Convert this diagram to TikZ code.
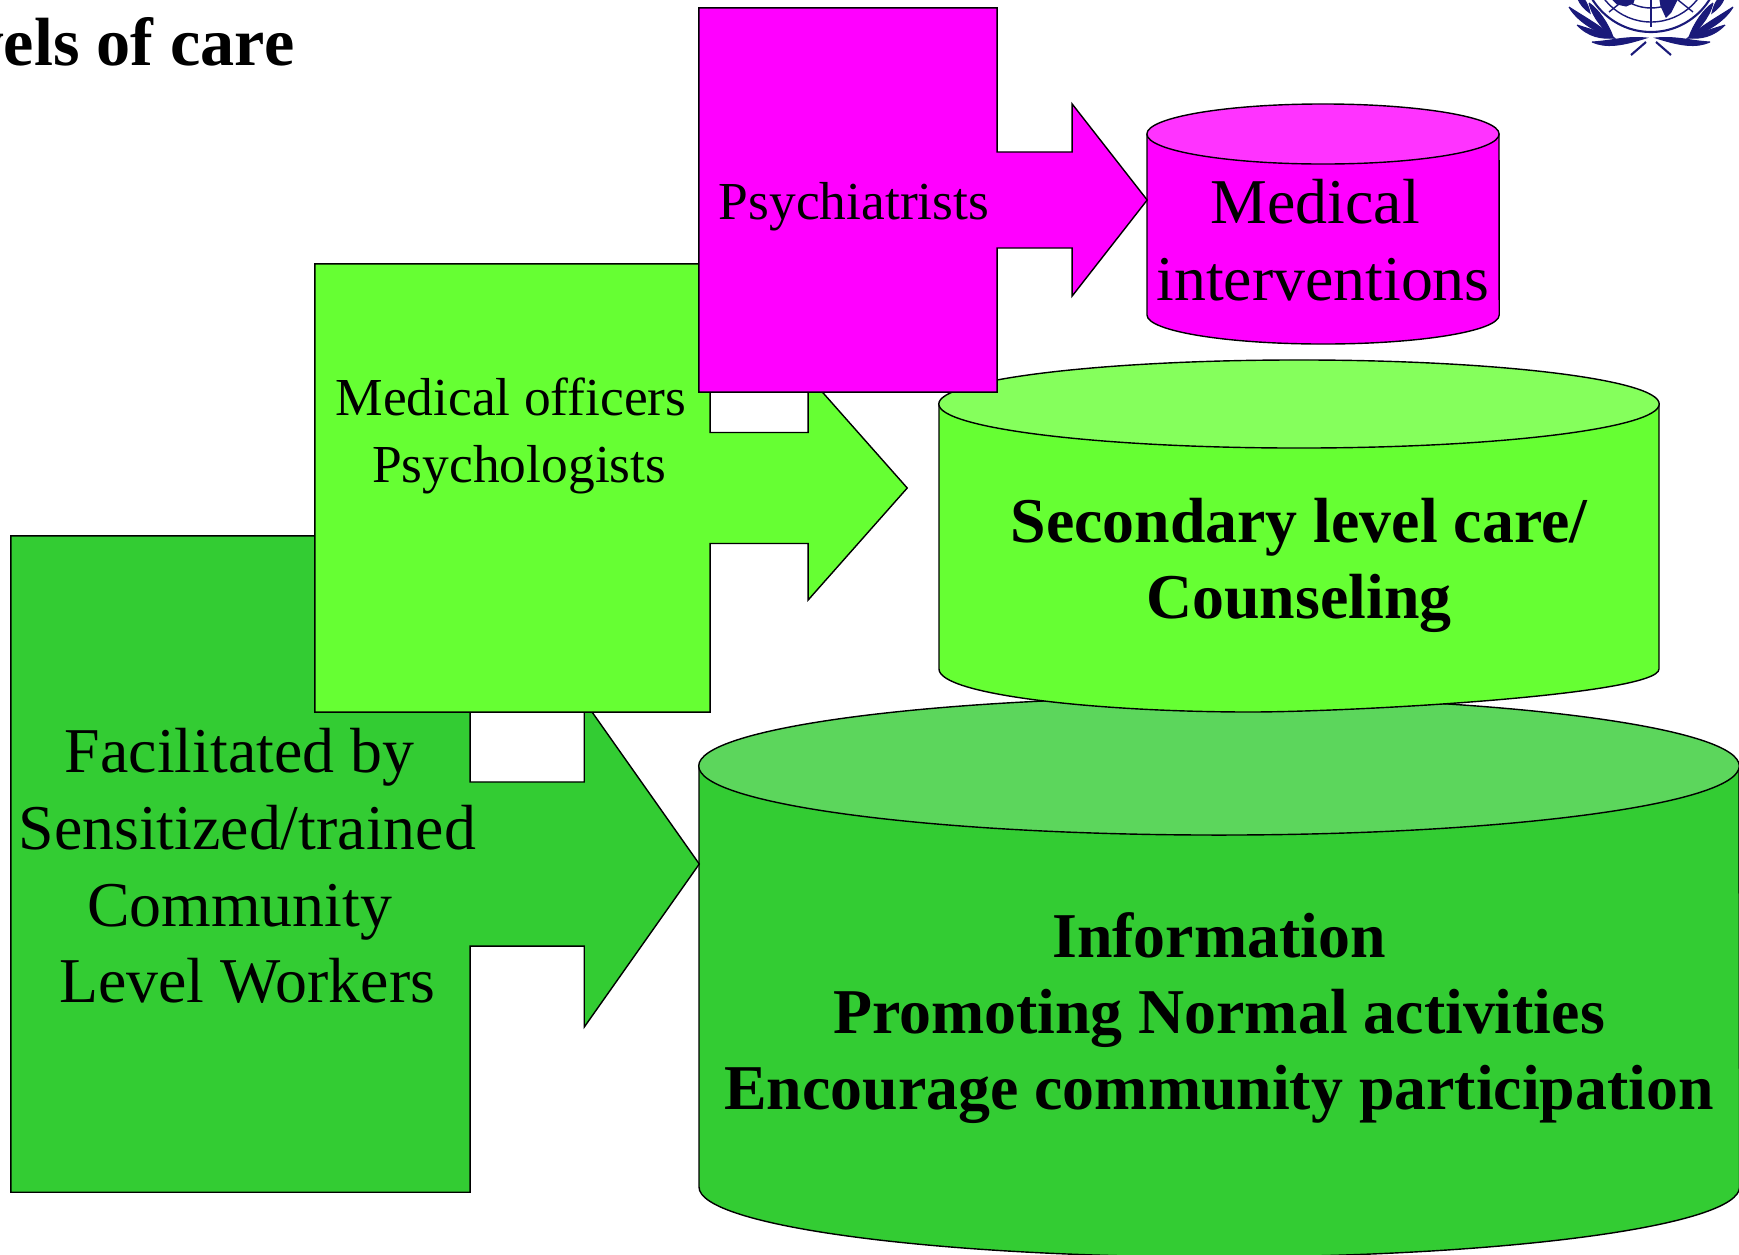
\documentclass[tikz,border=0pt]{standalone}
\usepackage{fontspec}
\setmainfont{Liberation Serif}
\usetikzlibrary{positioning, shapes.arrows}
\definecolor{careGreen}{HTML}{33CC33}
\definecolor{careGreenTop}{HTML}{5CD65C}
\definecolor{careLime}{HTML}{66FF33}
\definecolor{careLimeTop}{HTML}{85FF5C}
\definecolor{careMagenta}{HTML}{FF00FF}
\definecolor{careMagentaTop}{HTML}{FF33FF}
\definecolor{careNavy}{HTML}{1A1A7A}
\tikzset{workers/.style = {arrow box, draw = black, line width = 0.4pt, inner sep = 0pt, outer sep = 0pt},
         drum/.style = {draw = black, line width = 0.4pt},
         bigtext/.style = {align = center, font = \fontsize{18.15}{21.8}\selectfont},
         smalltext/.style = {align = center, font = \fontsize{15.2}{18.9}\selectfont},
         boldtext/.style = {align = center, font = \fontsize{18.15}{21.7}\selectfont\bfseries},
         emblem/.style = {draw = careNavy, line width = 0.6pt},
         leaf/.style = {fill = careNavy, draw = careNavy, line width = 0.3pt}}

\begin{document}
\begin{tikzpicture}[x = 0.01cm, y = -0.01cm]
        \useasboundingbox (0, 0) rectangle (1739, 1254);

        % cylinders, bottom one first
        \draw[drum, fill = careGreen] (699, 765) -- (699, 1187)
            arc[x radius = 5.20cm, y radius = 0.70cm, start angle = 180, end angle = 360] -- (1739, 765);
        \draw[drum, fill = careGreenTop] (1219, 766) ellipse[x radius = 5.20cm, y radius = 0.69cm];
        \draw[drum, fill = careLime] (939, 404) -- (939, 669)
            .. controls (939, 695) and (1100, 712) .. (1250, 712)
            .. controls (1350, 712) and (1659, 695) .. (1659, 669) -- (1659, 404);
        \draw[drum, fill = careLimeTop] (1299, 404) ellipse[x radius = 3.60cm, y radius = 0.44cm];
        \draw[drum, fill = careMagenta] (1147, 134) -- (1147, 315)
            arc[x radius = 1.76cm, y radius = 0.29cm, start angle = 180, end angle = 360] -- (1499, 134);
        \draw[drum, fill = careMagentaTop] (1323, 134) ellipse[x radius = 1.76cm, y radius = 0.30cm];

        % callouts
        \node[workers, fill = careGreen, minimum width = 4.59cm, minimum height = 6.56cm,
              arrow box arrows = {east:2.29cm}, arrow box shaft width = 1.64cm,
              arrow box head extend = 0.81cm, arrow box tip angle = 109.6]  (community) at (240.5, 864) {};
        \node[workers, fill = careLime, minimum width = 3.95cm, minimum height = 4.48cm,
              arrow box arrows = {east:1.97cm}, arrow box shaft width = 1.11cm,
              arrow box head extend = 0.565cm, arrow box tip angle = 97]    (officers)  at (512.5, 488) {};
        \node[workers, fill = careMagenta, minimum width = 2.98cm, minimum height = 3.84cm,
              arrow box arrows = {east:1.50cm}, arrow box shaft width = 0.96cm,
              arrow box head extend = 0.48cm, arrow box tip angle = 104]    (psych)     at (848, 200) {};

        % emblem in the corner
        \draw[emblem] (1651, -37) circle[radius = 69];
        \draw[emblem, line width = 0.4pt] (1651, -37) circle[radius = 59];
        \draw[emblem, line width = 0.4pt] (1651, -37) circle[radius = 45];
        \draw[emblem] (1651, 0) -- (1651, 27);
        \fill[leaf] (1613, 0) -- (1617, 4) -- (1626, 6) -- (1633, 3) -- (1634, 0) -- cycle;
        \fill[leaf] (1660, 0) -- (1661, 6) -- (1666, 17) -- (1671, 12) -- (1677, 0) -- cycle;
        \foreach \side in {1, -1} {
            \begin{scope}[shift = {(1651, 0)}, xscale = \side]
                \draw[emblem, line width = 0.4pt] (-42, 12) -- (-27, 0);
                \filldraw[leaf] (-82, 7) .. controls (-72, 24) and (-50, 34) .. (-37, 38)
                                     .. controls (-50, 26) and (-70, 15) .. (-82, 7);
                \filldraw[leaf] (-74, 25) .. controls (-62, 37) and (-50, 39) .. (-37, 38)
                                      .. controls (-50, 32) and (-62, 29) .. (-74, 25);
                \filldraw[leaf] (-62, 3) .. controls (-58, 19) and (-46, 31) .. (-38, 37)
                                     .. controls (-43, 23) and (-53, 9) .. (-62, 3);
                \filldraw[leaf] (-73, -1) .. controls (-71, 4) and (-67, 9) .. (-61, 13)
                                      .. controls (-62, 8) and (-64, 3) .. (-67, -1) -- cycle;
                \filldraw[leaf] (-59, 42) .. controls (-45, 48) and (-30, 46) .. (-5, 38)
                                      .. controls (-25, 36) and (-40, 41) .. (-59, 42);
                \draw[emblem] (-20, 55) -- (-5, 42);
            \end{scope}
        }

        % texts
        \node[anchor = base east, inner sep = 0pt, font = \fontsize{19.4}{21.8}\selectfont\bfseries] (title) at (295, 65) {vels of care};
        \node[bigtext]   (communityText) at (243.4, 866) {Facilitated by\kern 0.12em\\\kern 0.12em Sensitized/trained\\Community\kern 0.12em\\\kern 0.12em Level Workers};
        \node[smalltext] (officersText)  at (511, 436)   {Medical officers\\\kern 0.31em Psychologists};
        \node[smalltext] (psychText)     at (854, 207)   {Psychiatrists};
        \node[bigtext]   (medicalText)   at (1323, 240)  {Medical\kern 0.24em\\interventions};
        \node[boldtext]  (secondText)    at (1299, 565.5) {Secondary level care/\\Counseling};
        \node[boldtext]  (infoText)      at (1219, 1018) {Information\\Promoting Normal activities\\Encourage community participation};
\end{tikzpicture}
\end{document}
